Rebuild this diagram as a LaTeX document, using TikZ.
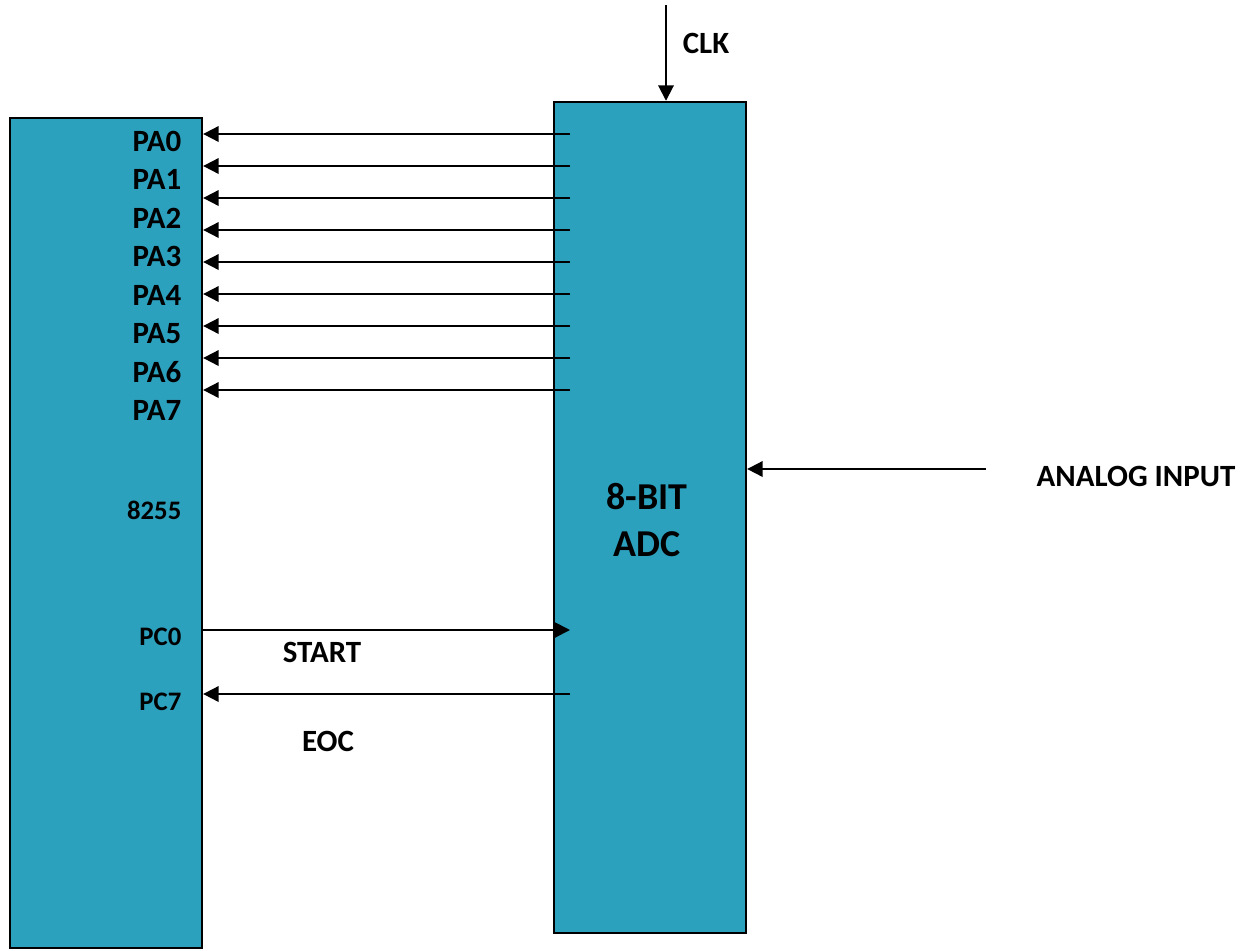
\documentclass[tikz,border=0pt]{standalone}
\usepackage{fontspec}
\setmainfont{Carlito}
\usepackage{tikz}
\usetikzlibrary{positioning,arrows.meta}
\definecolor{blkfill}{RGB}{44,161,190}

\begin{document}
\begin{tikzpicture}[
  x=0.025cm, y=-0.025cm,
  blk/.style={
    draw=black, line width=1.6pt, fill=blkfill,
    minimum width=4.8cm, inner sep=0pt
  },
  lbl/.style={font=\fontsize{22}{26}\selectfont\bfseries, inner sep=1pt},
  sml/.style={font=\fontsize{19}{23}\selectfont\bfseries, inner sep=1pt},
  a/.style={-{Triangle[length=11pt,width=11pt]},line width=1.4pt,black}
]
\useasboundingbox (0,0) rectangle (1245,950);

% Boxes
\node[blk,minimum height=20.75cm] (ppi) at (106,533) {};
\node[blk,minimum height=20.775cm] (adc) at (650,517.5) {};

% Port A lines
\foreach \i in {0,...,8}
  \coordinate (d\i) at (570,{134+32*\i});
\foreach \i in {0,...,8}
  \draw[a] (d\i) -- (d\i -| ppi.east);

\foreach \i in {0,...,7}
  \node[lbl,anchor=east] (pa\i) at (183,{141.5+38.4*\i}) {PA\i};

\node[sml,anchor=east] (ic) at (183,510) {8255};
\node[sml,anchor=east] (pc0) at (183,637) {PC0};
\node[sml,anchor=east] (pc7) at (183,702) {PC7};

% ADC text
\node[font=\fontsize{27}{33}\selectfont\bfseries,align=center] (name)
  at (647,520) {8-BIT\\ADC};

% Clock
\coordinate (clk) at (666,5);
\draw[a] (clk) -- (clk |- adc.north);
\node[lbl] (clkl) at (706,43) {CLK};

% Analog input
\coordinate (ain) at (986,469);
\draw[a] (ain) -- (ain -| adc.east);
\node[lbl] (ainl) at (1136,476) {ANALOG INPUT};

% Start / EOC
\coordinate (st) at (570,630);
\coordinate (eoc) at (570,694);
\draw[a] (st -| ppi.east) -- (st);
\draw[a] (eoc) -- (eoc -| ppi.east);
\node[lbl] (stl) at (322,652) {START};
\node[lbl] (eocl) at (328,741) {EOC};
\end{tikzpicture}
\end{document}
